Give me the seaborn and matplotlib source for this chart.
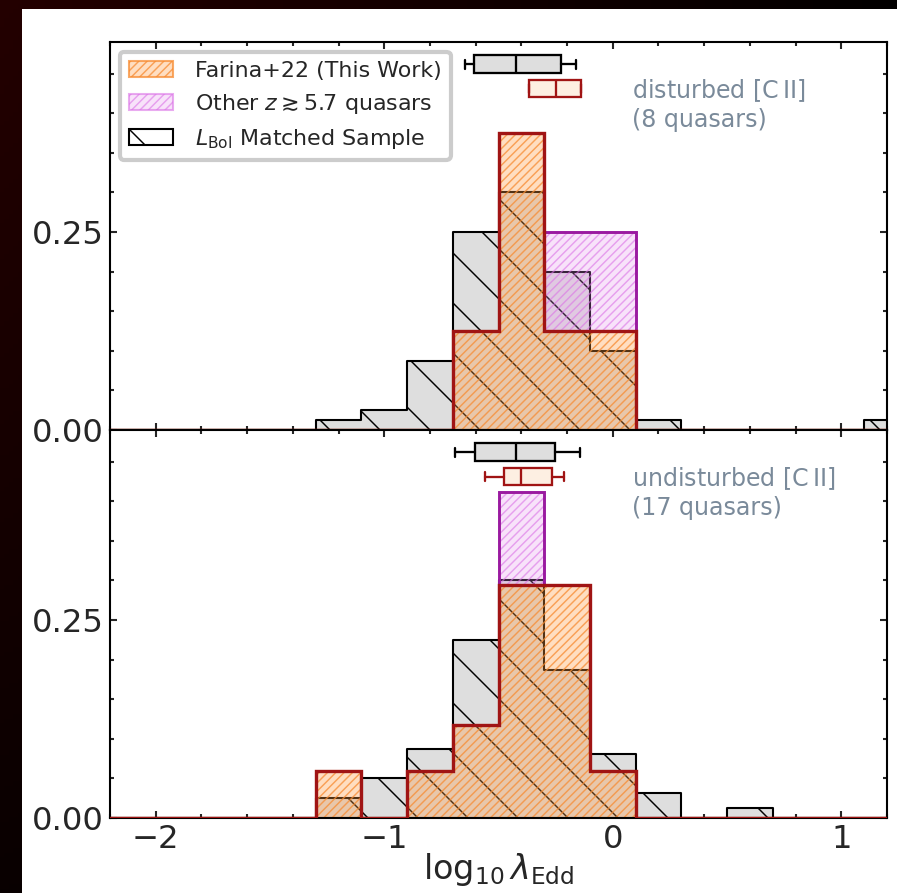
import numpy as np
import pandas as pd
import matplotlib
matplotlib.use("Agg")
import matplotlib.pyplot as plt
import seaborn as sns
from matplotlib.patches import Patch, Rectangle
from matplotlib.ticker import MultipleLocator, FormatStrFormatter

# bin edges of the Eddington ratio histograms (0.2 dex)
bin_edges = [round(v, 1) for v in np.arange(-2.5, 1.51, 0.2)]

# disturbed [CII] (8 quasars)
dist_gray_x = [-1.2, -1.0, -0.8, -0.6, -0.4, -0.2, 0.0, 0.2, 1.2]
dist_gray_frac = [0.0125, 0.025, 0.0875, 0.25, 0.30, 0.20, 0.10, 0.0125, 0.0125]
dist_farina_x = [-0.6, -0.4, -0.2, 0.0]
dist_farina_n = [1, 3, 1, 1]
dist_other_x = [-0.2, 0.0]
dist_other_n = [1, 1]
dist_total = 8
# whislo, q1, med, q3, whishi
dist_box_gray = [-0.645, -0.608, -0.425, -0.225, -0.159]
dist_box_farina = [-0.367, -0.367, -0.25, -0.137, -0.137]

# undisturbed [CII] (17 quasars)
und_gray_x = [-1.2, -1.0, -0.8, -0.6, -0.4, -0.2, 0.0, 0.2, 0.6]
und_gray_frac = [0.025, 0.05, 0.0875, 0.225, 0.30, 0.1875, 0.0813, 0.0313, 0.0125]
und_farina_x = [-1.2, -0.8, -0.6, -0.4, -0.2, 0.0]
und_farina_n = [1, 1, 2, 5, 5, 1]
und_other_x = [-0.4]
und_other_n = [2]
und_total = 17
und_box_gray = [-0.689, -0.602, -0.425, -0.251, -0.143]
und_box_farina = [-0.558, -0.478, -0.40, -0.266, -0.215]

RED = "#a01414"
PURPLE = "#9a1aa0"
GRAY_FACE = "#dedede"
ORANGE_FACE = (1.0, 0.6, 0.25, 0.32)
ORANGE_HATCH = (0.97, 0.55, 0.2, 0.75)
MAG_FACE = (0.9, 0.55, 0.93, 0.25)
MAG_HATCH = (0.86, 0.45, 0.9, 0.6)
TEXT_COL = "#7a8a9a"

sns.set_style("ticks")
plt.rcParams["hatch.linewidth"] = 0.7
plt.rcParams["hatch.color"] = "black"


def box_stats(v):
    return dict(whislo=v[0], q1=v[1], med=v[2], q3=v[3], whishi=v[4], fliers=[])


def draw_panel(ax, gray_x, gray_frac, far_x, far_n, oth_x, oth_n, total,
               box_gray, box_far, label):
    gray_df = pd.DataFrame({"x": gray_x, "w": gray_frac})
    sns.histplot(data=gray_df, x="x", weights="w", bins=bin_edges, element="step",
                 fill=True, color=GRAY_FACE, alpha=1, edgecolor="black",
                 linewidth=1.0, hatch="\\", ax=ax, zorder=1)

    far_w = np.array(far_n) / total
    oth_w = np.array(oth_n) / total
    far_h, _ = np.histogram(far_x, bins=bin_edges, weights=far_w)

    ax.hist(far_x, bins=bin_edges, weights=far_w, histtype="stepfilled",
            facecolor=ORANGE_FACE, edgecolor=ORANGE_HATCH, linewidth=1.0,
            hatch="//////", zorder=2)
    ax.hist(oth_x, bins=bin_edges, weights=oth_w, bottom=far_h,
            histtype="stepfilled", facecolor=MAG_FACE, edgecolor=MAG_HATCH,
            linewidth=0, hatch="//////", zorder=2)
    ax.hist(oth_x, bins=bin_edges, weights=oth_w, bottom=far_h,
            histtype="step", color=PURPLE, linewidth=1.4, zorder=3)
    ax.hist(far_x, bins=bin_edges, weights=far_w, histtype="step",
            color=RED, linewidth=1.6, zorder=4)

    ax.bxp([box_stats(box_gray)], positions=[0.462], widths=0.023,
           orientation="horizontal", patch_artist=True, showfliers=False,
           manage_ticks=False, zorder=5,
           boxprops=dict(facecolor=GRAY_FACE, edgecolor="black", linewidth=1.1),
           medianprops=dict(color="black", linewidth=1.1),
           whiskerprops=dict(color="black", linewidth=1.1),
           capprops=dict(color="black", linewidth=1.1))
    ax.bxp([box_stats(box_far)], positions=[0.431], widths=0.022,
           orientation="horizontal", patch_artist=True, showfliers=False,
           manage_ticks=False, zorder=5,
           boxprops=dict(facecolor="#fdefe2", edgecolor=RED, linewidth=1.1),
           medianprops=dict(color=RED, linewidth=1.1),
           whiskerprops=dict(color=RED, linewidth=1.1),
           capprops=dict(color=RED, linewidth=1.1))

    ax.text(0.672, 0.91, label, transform=ax.transAxes, ha="left", va="top",
            color=TEXT_COL, fontsize=11.4, linespacing=1.2)

    ax.set_xlim(-2.2, 1.2)
    ax.set_ylim(0, 0.49)
    ax.set_ylabel("")
    ax.xaxis.set_major_locator(MultipleLocator(1))
    ax.xaxis.set_minor_locator(MultipleLocator(0.2))
    ax.yaxis.set_major_locator(MultipleLocator(0.25))
    ax.yaxis.set_minor_locator(MultipleLocator(0.05))
    ax.yaxis.set_major_formatter(FormatStrFormatter("%.2f"))
    ax.tick_params(which="both", direction="in", top=True, right=True,
                   labelsize=15.5, width=1.0, pad=3)
    ax.tick_params(which="major", length=3.5)
    ax.tick_params(which="minor", length=2)
    for sp in ax.spines.values():
        sp.set_linewidth(1.0)
        sp.set_color("black")
        sp.set_visible(True)


fig = plt.figure(figsize=(897 / 150, 893 / 150), dpi=150, facecolor="black")

# dark frame of the screenshot
bg = fig.add_axes([0, 0, 1, 1], zorder=-10)
bg.axis("off")
yy, xx = np.mgrid[0:1:200j, 0:1:200j]
shade = 0.14 * (1 - 0.75 * yy) * (1 - 0.95 * xx)
img = np.dstack([shade, shade * 0.02, shade * 0.02])
bg.imshow(img, aspect="auto", extent=[0, 1, 0, 1], origin="upper")
fig.patches.append(Rectangle((22 / 897, 0), 1, 1 - 9 / 893,
                             transform=fig.transFigure, facecolor="white",
                             edgecolor="none", zorder=-5))

left, width, height = 110 / 897, 777 / 897, 388 / 893
ax_top = fig.add_axes([left, (893 - 430) / 893, width, height])
ax_bot = fig.add_axes([left, (893 - 818) / 893, width, height])

draw_panel(ax_top, dist_gray_x, dist_gray_frac, dist_farina_x, dist_farina_n,
           dist_other_x, dist_other_n, dist_total, dist_box_gray,
           dist_box_farina, "disturbed [C$\\,$II]\n(8 quasars)")
draw_panel(ax_bot, und_gray_x, und_gray_frac, und_farina_x, und_farina_n,
           und_other_x, und_other_n, und_total, und_box_gray,
           und_box_farina, "undisturbed [C$\\,$II]\n(17 quasars)")

ax_top.tick_params(labelbottom=False)
ax_top.set_xlabel("")
ax_bot.set_xlabel(r"$\log_{10}\lambda_{\rm Edd}$", fontsize=16, labelpad=-2)

handles = [
    Patch(facecolor=ORANGE_FACE, edgecolor=ORANGE_HATCH, hatch="//////",
          label="Farina+22 (This Work)"),
    Patch(facecolor=MAG_FACE, edgecolor=MAG_HATCH, hatch="//////",
          label=r"Other $z\gtrsim5.7$ quasars"),
    Patch(facecolor="white", edgecolor="black", hatch="\\",
          label=r"$L_{\rm Bol}$ Matched Sample"),
]
leg = ax_top.legend(handles=handles, loc="upper left", fontsize=10.6,
                    handlelength=2.0, handletextpad=1.0, fancybox=True,
                    framealpha=1, borderaxespad=0.45)
leg.get_frame().set_edgecolor("#cccccc")
leg.get_frame().set_linewidth(2.0)
leg.set_zorder(10)

fig.savefig("out.png", dpi=150, facecolor=fig.get_facecolor())
